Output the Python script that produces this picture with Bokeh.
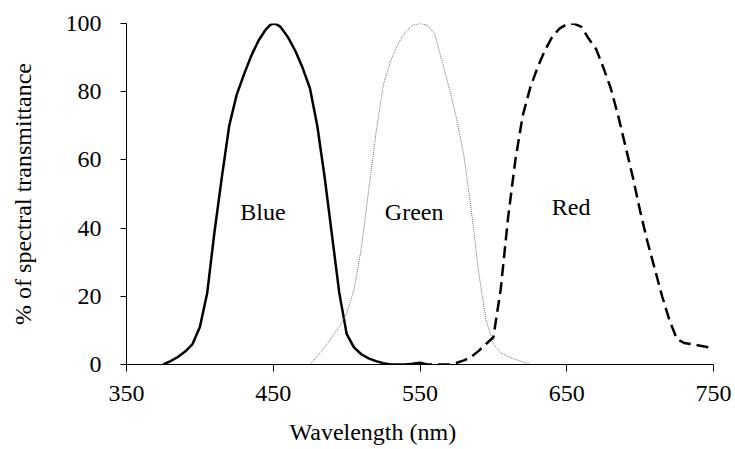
from bokeh.plotting import figure
from bokeh.models import Range1d, Label, Title
from bokeh.embed import file_html
from bokeh.resources import INLINE

# Data
blue_wl = [375, 380, 385, 390, 395, 400, 405, 410, 415, 420, 425, 430, 435, 440, 445,
           448, 450, 452, 455, 460, 465, 470, 475, 480, 485, 490, 495, 500, 505, 510,
           515, 520, 525, 530, 540, 545, 550, 555]
blue_val = [0, 1, 2.2, 3.8, 6, 11, 21, 39, 55, 70, 79, 85, 90.5, 95, 98.3,
            99.6, 100, 99.8, 99, 96, 92, 87, 81, 70, 55, 38, 21, 9, 5, 3,
            1.8, 1, 0.4, 0, 0, 0.2, 0.5, 0]

green_wl = [475, 480, 485, 490, 495, 500, 505, 510, 515, 520, 525, 530, 535, 540, 545,
            550, 555, 560, 565, 570, 575, 580, 585, 590, 595, 600, 605, 610, 615, 620, 625]
green_val = [0, 2.5, 5, 8, 11, 15, 22, 34, 51, 68, 82, 89, 94, 97.5, 99.5,
             100, 99.5, 97, 89, 81, 72, 61, 45, 27, 13, 6, 3.5, 2.3, 1.5, 0.8, 0]

red_wl = [550, 560, 570, 575, 580, 585, 590, 595, 600, 605, 610, 615, 620, 625, 630,
          635, 640, 645, 650, 655, 660, 665, 670, 675, 680, 685, 690, 695, 700, 705,
          710, 715, 720, 725, 730, 740, 750]
red_val = [0, 0, 0, 0.5, 1.2, 2.3, 4, 6, 8, 22, 43, 60, 73, 81, 87,
           92, 96, 98.5, 99.8, 100, 99, 95.5, 92.5, 87, 81, 73, 64, 55, 45, 36,
           28, 20, 13, 7.5, 6.3, 5.6, 4.8]

x_ticks = [350, 450, 550, 650, 750]
y_ticks = [0, 20, 40, 60, 80, 100]

FONT = "Liberation Serif"
FS = "24px"

p = figure(frame_width=587, frame_height=341,
           x_range=Range1d(350, 750), y_range=Range1d(0, 100),
           output_backend="svg", toolbar_location=None,
           min_border_left=126, min_border_right=22,
           min_border_top=23, min_border_bottom=85)

p.grid.visible = False
p.outline_line_color = None
p.background_fill_color = "white"
p.border_fill_color = "white"

p.line(blue_wl, blue_val, line_color="black", line_width=2.5, line_join="round")
p.line(green_wl, green_val, line_color="#707070", line_width=1, line_dash="1 1")
p.line(red_wl, red_val, line_color="black", line_width=2.5, line_dash="12 6",
       line_join="round")

for ax in (p.xaxis[0], p.yaxis[0]):
    ax.major_label_text_font = FONT
    ax.major_label_text_font_size = FS
    ax.major_label_text_color = "black"
    ax.axis_line_color = "black"
    ax.axis_line_width = 1
    ax.major_tick_line_color = "black"
    ax.minor_tick_line_color = None
    ax.major_tick_in = 0

p.xaxis.ticker = x_ticks
p.yaxis.ticker = y_ticks
p.xaxis.major_tick_out = 7
p.yaxis.major_tick_out = 6
p.xaxis.major_label_standoff = 14
p.yaxis.major_label_standoff = 19

p.yaxis.axis_label = "% of spectral transmittance"
p.yaxis.axis_label_text_font = FONT
p.yaxis.axis_label_text_font_size = FS
p.yaxis.axis_label_text_font_style = "normal"
p.yaxis.axis_label_text_color = "black"
p.yaxis.axis_label_standoff = 27

xt = Title(text="Wavelength (nm)", align="left", offset=163, standoff=26,
           text_font=FONT, text_font_size=FS, text_font_style="normal",
           text_color="black")
p.add_layout(xt, "below")

def add_label(x, y, text):
    p.add_layout(Label(x=x, y=y, text=text, text_align="center",
                       text_baseline="middle", text_font=FONT,
                       text_font_size=FS, text_color="black"))

add_label(443, 44.6, "Blue")
add_label(546, 44.6, "Green")
add_label(653, 46.3, "Red")

open("out.html", "w").write(file_html(p, INLINE))
